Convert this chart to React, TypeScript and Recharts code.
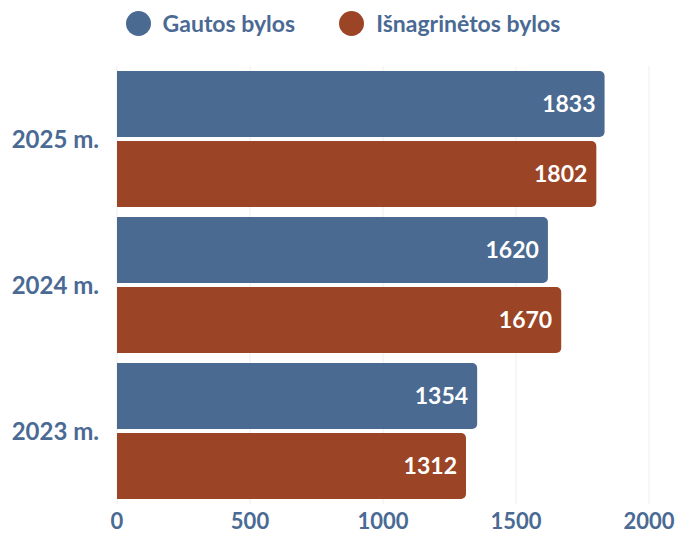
import React from 'react';
import {
  BarChart,
  Bar,
  XAxis,
  YAxis,
  CartesianGrid,
  LabelList
} from 'recharts';

// Metai (viršuje naujausi)
const years = ['2025 m.', '2024 m.', '2023 m.'];
const gautos = [1833, 1620, 1354];
const isnagrinetos = [1802, 1670, 1312];
const xTicks = [0, 500, 1000, 1500, 2000];

const BLUE = '#4b6a92';
const RUST = '#9b4526';
const TEXT = '#4a6a94';
const FONT = 'Lato, "Open Sans", sans-serif';

const data = years.map((name, i) => ({
  name,
  gautos: gautos[i],
  isnagrinetos: isnagrinetos[i]
}));

const seriesMeta = [
  { key: 'gautos', label: 'Gautos bylos', color: BLUE },
  { key: 'isnagrinetos', label: 'Išnagrinėtos bylos', color: RUST }
];

// legenda virš grafiko, kad neperstumtų ploto
const LegendRow = () => (
  <div
    style={{
      position: 'absolute',
      top: 11,
      left: 0,
      width: 678,
      display: 'flex',
      justifyContent: 'center',
      alignItems: 'center',
      gap: 44,
      fontFamily: FONT,
      paddingLeft: 8,
      boxSizing: 'border-box'
    }}
  >
    {seriesMeta.map((s) => (
      <div key={s.key} style={{ display: 'flex', alignItems: 'center' }}>
        <span
          style={{
            display: 'inline-block',
            width: 25,
            height: 25,
            borderRadius: '50%',
            background: s.color,
            marginRight: 12
          }}
        />
        <span style={{ color: TEXT, fontWeight: 700, fontSize: 23, lineHeight: '25px' }}>{s.label}</span>
      </div>
    ))}
  </div>
);

export default function App() {
  return (
    <div style={{ position: 'absolute', left: 0, top: 0, width: 678, height: 535, background: '#fff' }}>
      <BarChart
        width={678}
        height={535}
        data={data}
        layout="vertical"
        margin={{ top: 66, right: 29, left: 0, bottom: 0 }}
        barCategoryGap={5}
        barGap={4}
      >
        <CartesianGrid horizontal={false} stroke="#eceef2" />
        <XAxis
          type="number"
          domain={[0, 2000]}
          ticks={xTicks}
          axisLine={false}
          tickLine={false}
          height={31}
          tickMargin={3}
          tick={{ fill: TEXT, fontSize: 22, fontWeight: 700, fontFamily: FONT }}
        />
        <YAxis
          type="category"
          dataKey="name"
          width={117}
          axisLine={false}
          tickLine={false}
          tickMargin={12}
          tick={{ fill: TEXT, fontSize: 24, fontWeight: 700, fontFamily: FONT }}
        />
        {seriesMeta.map((s) => (
          <Bar
            key={s.key}
            dataKey={s.key}
            name={s.label}
            fill={s.color}
            radius={[0, 5, 5, 0]}
            isAnimationActive={false}
          >
            <LabelList
              dataKey={s.key}
              position="insideRight"
              offset={9}
              fill="#ffffff"
              style={{ fontSize: 23, fontWeight: 700, fontFamily: FONT }}
            />
          </Bar>
        ))}
      </BarChart>
      <LegendRow />
    </div>
  );
}
